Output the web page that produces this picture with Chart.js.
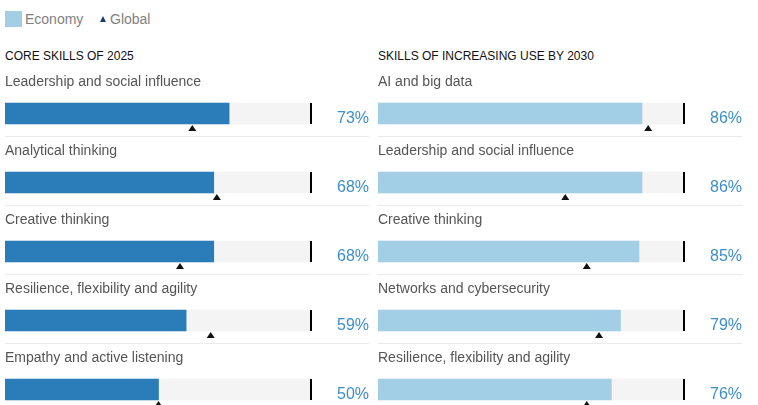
<!DOCTYPE html>
<html>
<head>
<meta charset="utf-8">
<script src="https://cdn.jsdelivr.net/npm/chart.js@4.4.1/dist/chart.umd.min.js"></script>
<style>
  body { margin: 0; width: 758px; height: 405px; overflow: hidden; background: #fff;
         font-family: "Liberation Sans", Arial, sans-serif; position: relative; }
  .legend { position: absolute; left: 5px; top: 11px; height: 16px; font-size: 14px; color: #808080;
            line-height: 16px; white-space: nowrap; }
  .legend .sq { display: inline-block; width: 17px; height: 16px; background: #a3cfe6; vertical-align: top; }
  .legend .lbl { position: absolute; top: 0; }
  .legend .tri { position: absolute; left: 95px; top: 5px; width: 0; height: 0;
                 border-left: 3px solid transparent; border-right: 3px solid transparent;
                 border-bottom: 6px solid #1f3d6b; }
  .title { position: absolute; top: 49px; font-size: 12px; color: #111; white-space: nowrap; }
  .panel { position: absolute; top: 0; height: 430px; }
</style>
</head>
<body>
<div class="legend">
  <span class="sq"></span>
  <span class="lbl" style="left:20px">Economy</span>
  <span class="tri"></span>
  <span class="lbl" style="left:105px">Global</span>
</div>
<div class="title" style="left:5px">CORE SKILLS OF 2025</div>
<div class="title" style="left:378px">SKILLS OF INCREASING USE BY 2030</div>
<div class="panel" style="left:0;width:378px"><canvas id="coreChart"></canvas></div>
<div class="panel" style="left:373px;width:385px"><canvas id="riseChart"></canvas></div>

<script>
// core skills of 2025
const coreSkills = ['Leadership and social influence', 'Analytical thinking', 'Creative thinking',
                    'Resilience, flexibility and agility', 'Empathy and active listening'];
const coreEconomy = [73, 68, 68, 59, 50];
const coreGlobal = [61, 69, 57, 67, 50];

// skills of increasing use by 2030
const riseSkills = ['AI and big data', 'Leadership and social influence', 'Creative thinking',
                    'Networks and cybersecurity', 'Resilience, flexibility and agility'];
const riseEconomy = [86, 86, 85, 79, 76];
const riseGlobal = [88, 61, 68, 72, 68];

const fullScale = [100, 100, 100, 100, 100];

const BAR_H = 21;
const LABEL_GAP = 57;

// labels, 100% marker, global triangles, percent text
const skillDecor = {
  id: 'skillDecor',
  afterDatasetsDraw(chart, args, opts) {
    const ctx = chart.ctx;
    const x = chart.scales.x, y = chart.scales.y;
    const area = chart.chartArea;
    const labels = chart.data.labels;
    ctx.save();
    labels.forEach(function (lab, i) {
      const yc = y.getPixelForValue(i);
      const top = yc - BAR_H / 2, bottom = yc + BAR_H / 2;

      // 100% marker
      const xe = x.getPixelForValue(100);
      ctx.fillStyle = '#000';
      ctx.fillRect(xe - 2, top, 2, BAR_H);

      // category label
      ctx.font = '14px "Liberation Sans", Arial, sans-serif';
      ctx.fillStyle = '#555';
      ctx.textAlign = 'left';
      ctx.textBaseline = 'alphabetic';
      ctx.fillText(lab, area.left, top - 17);

      // percent
      ctx.font = '16px "Liberation Sans", Arial, sans-serif';
      ctx.fillStyle = '#3d8ec9';
      ctx.textAlign = 'right';
      ctx.fillText(chart.data.datasets[0].data[i] + '%', area.right + LABEL_GAP, bottom - 1);

      // global triangle
      const gx = x.getPixelForValue(opts.global[i]);
      ctx.fillStyle = '#111';
      ctx.beginPath();
      ctx.moveTo(gx, bottom + 1);
      ctx.lineTo(gx + 4, bottom + 7);
      ctx.lineTo(gx - 4, bottom + 7);
      ctx.closePath();
      ctx.fill();

      // row separator
      ctx.fillStyle = '#ebebeb';
      ctx.fillRect(area.left, bottom + 12, area.right + LABEL_GAP - area.left, 1);
    });
    ctx.restore();
  }
};

function makeChart(id, skills, economy, global, color) {
  const el = document.getElementById(id);
  return new Chart(el, {
    type: 'bar',
    data: {
      labels: skills,
      datasets: [
        { data: economy, backgroundColor: color, order: 1, grouped: false, barThickness: BAR_H },
        { data: fullScale, backgroundColor: '#f4f4f4', order: 2, grouped: false, barThickness: BAR_H }
      ]
    },
    options: {
      indexAxis: 'y',
      responsive: true,
      maintainAspectRatio: false,
      animation: false,
      layout: { padding: { left: 5, right: el.parentNode.clientWidth - 5 - 307, top: 79, bottom: 6 } },
      scales: {
        x: { display: false, min: 0, max: 100 },
        y: { display: false }
      },
      plugins: {
        legend: { display: false },
        tooltip: { enabled: false },
        skillDecor: { global: global }
      }
    },
    plugins: [skillDecor]
  });
}

makeChart('coreChart', coreSkills, coreEconomy, coreGlobal, '#2a7db8');
makeChart('riseChart', riseSkills, riseEconomy, riseGlobal, '#a3cfe6');
</script>
</body>
</html>
